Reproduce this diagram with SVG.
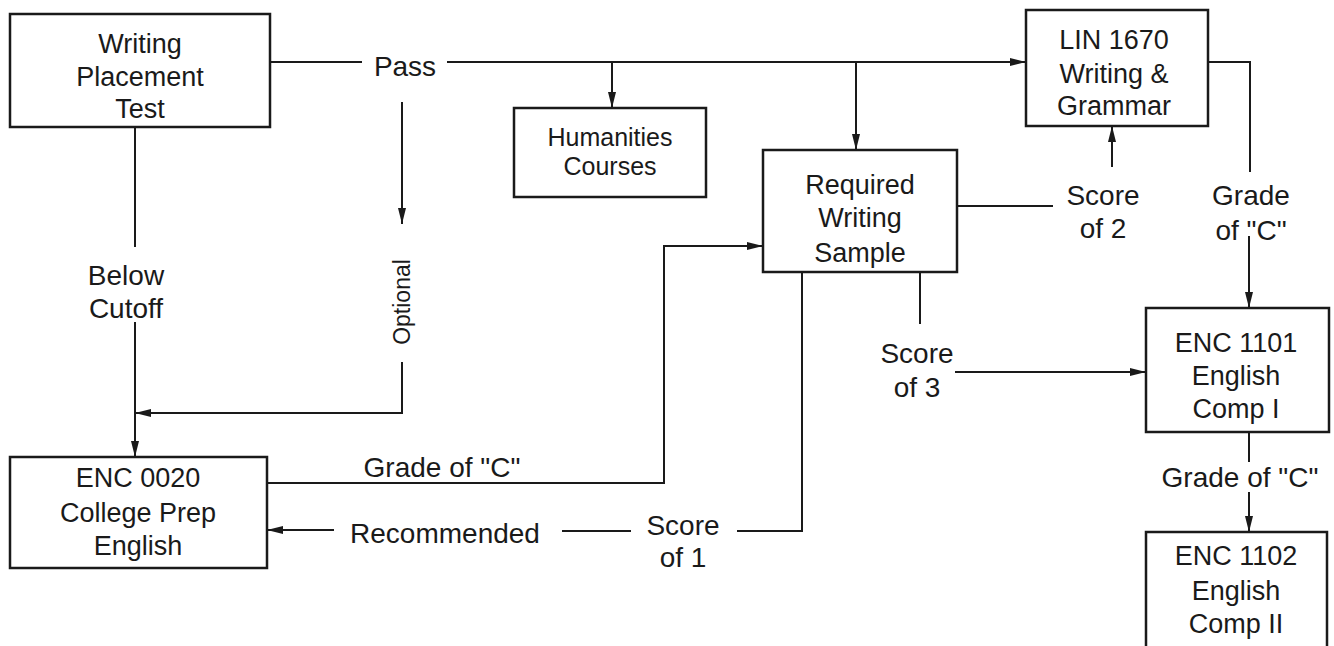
<svg xmlns="http://www.w3.org/2000/svg" width="1334" height="646" viewBox="0 0 1334 646">
<style>
text{font-family:"Liberation Sans",Arial,sans-serif;font-size:27px;fill:#1a1a1a;text-anchor:middle}
.box{fill:#fff;stroke:#1a1a1a;stroke-width:2.5}
.ln{fill:none;stroke:#1a1a1a;stroke-width:2}
.lbl{font-size:28px}
.hum{font-size:25px}
</style>
<defs>
<marker id="ah" markerWidth="16" markerHeight="10" refX="16" refY="5" orient="auto" markerUnits="userSpaceOnUse">
<path d="M0,1 L16,5 L0,9 Z" fill="#1a1a1a"/>
</marker>
</defs>
<rect width="1334" height="646" fill="#fff"/>
<g id="connectors">
<path class="ln" d="M270,62 H362"/>
<path class="ln" d="M447,62 H1026" marker-end="url(#ah)"/>
<path class="ln" d="M612,62 V108" marker-end="url(#ah)"/>
<path class="ln" d="M856,62 V150" marker-end="url(#ah)"/>
<path class="ln" d="M135,127 V247"/>
<path class="ln" d="M135,322 V457" marker-end="url(#ah)"/>
<path class="ln" d="M402,102 V224" marker-end="url(#ah)"/>
<path class="ln" d="M402,362 V413 H135" marker-end="url(#ah)"/>
<path class="ln" d="M267,483 H664 V246 H763" marker-end="url(#ah)"/>
<path class="ln" d="M802,272 V531 H737"/>
<path class="ln" d="M631,531 H562"/>
<path class="ln" d="M334,530 H267" marker-end="url(#ah)"/>
<path class="ln" d="M957,206 H1053"/>
<path class="ln" d="M1112,167 V126" marker-end="url(#ah)"/>
<path class="ln" d="M920,272 V324"/>
<path class="ln" d="M955,372 H1146" marker-end="url(#ah)"/>
<path class="ln" d="M1208,62 H1250 V172"/>
<path class="ln" d="M1249,236 V308" marker-end="url(#ah)"/>
<path class="ln" d="M1249,432 V462"/>
<path class="ln" d="M1249,492 V532" marker-end="url(#ah)"/>
</g>
<g id="labels">
<text class="lbl" x="405" y="76">Pass</text>
<text class="lbl" x="126" y="285">Below</text>
<text class="lbl" x="126" y="318">Cutoff</text>
<text x="0" y="0" style="font-size:23px" transform="translate(410,302) rotate(-90)">Optional</text>
<text class="lbl" x="442" y="477">Grade of "C"</text>
<text class="lbl" x="445" y="543">Recommended</text>
<text class="lbl" x="683" y="535">Score</text>
<text class="lbl" x="683" y="567">of 1</text>
<text class="lbl" x="1103" y="205">Score</text>
<text class="lbl" x="1103" y="238">of 2</text>
<text class="lbl" x="917" y="363">Score</text>
<text class="lbl" x="917" y="397">of 3</text>
<text class="lbl" x="1251" y="205">Grade</text>
<text class="lbl" x="1251" y="240">of "C"</text>
<text class="lbl" x="1240" y="487">Grade of "C"</text>
</g>
<g id="wpt">
<rect class="box" x="10" y="14" width="260" height="113"/>
<text x="140" y="53">Writing</text>
<text x="140" y="86">Placement</text>
<text x="140" y="118">Test</text>
</g>
<g id="humanities">
<rect class="box" x="514" y="108" width="192" height="89"/>
<text class="hum" x="610" y="146">Humanities</text>
<text class="hum" x="610" y="175">Courses</text>
</g>
<g id="rws">
<rect class="box" x="763" y="150" width="194" height="122"/>
<text x="860" y="194">Required</text>
<text x="860" y="227">Writing</text>
<text x="860" y="262">Sample</text>
</g>
<g id="lin1670">
<rect class="box" x="1026" y="10" width="182" height="116"/>
<text x="1114" y="49">LIN 1670</text>
<text x="1114" y="83">Writing &amp;</text>
<text x="1114" y="115">Grammar</text>
</g>
<g id="enc0020">
<rect class="box" x="10" y="457" width="257" height="111"/>
<text x="138" y="487">ENC 0020</text>
<text x="138" y="522">College Prep</text>
<text x="138" y="555">English</text>
</g>
<g id="enc1101">
<rect class="box" x="1146" y="308" width="183" height="124"/>
<text x="1236" y="352">ENC 1101</text>
<text x="1236" y="385">English</text>
<text x="1236" y="418">Comp I</text>
</g>
<g id="enc1102">
<rect class="box" x="1146" y="532" width="181" height="130"/>
<text x="1236" y="565">ENC 1102</text>
<text x="1236" y="600">English</text>
<text x="1236" y="633">Comp II</text>
</g>
</svg>
